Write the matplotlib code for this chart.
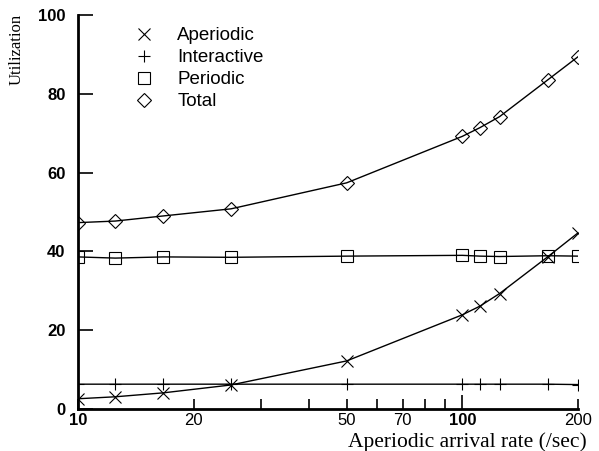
import matplotlib.pyplot as plt
from matplotlib.lines import Line2D
from matplotlib.ticker import FixedLocator, NullLocator, NullFormatter

rate = [10, 12.5, 16.67, 25, 50, 100, 111.1, 125, 166.67, 200]
aperiodic = [2.6, 3.1, 4.1, 6.1, 12.2, 23.9, 26.1, 29.3, 38.6, 44.7]
interactive = [6.3, 6.3, 6.3, 6.3, 6.3, 6.3, 6.3, 6.3, 6.3, 6.2]
periodic = [38.6, 38.3, 38.6, 38.5, 38.8, 39.0, 38.8, 38.7, 38.9, 38.8]
total = [47.3, 47.7, 49.0, 50.8, 57.4, 69.2, 71.4, 74.2, 83.5, 89.4]

xticks = [10, 20, 50, 70, 100, 200]
xminor = [30, 40, 60, 80, 90]
yticks = [0, 20, 40, 60, 80, 100]

sans = 'Liberation Sans'
serif = 'Liberation Serif'
W, H = 599, 451

fig = plt.figure(figsize=(5.99, 4.51), dpi=100)
ax = fig.add_axes([78 / W, 1 - 409 / H, 500 / W, 394 / H])

ax.plot(rate, aperiodic, color='black', lw=1, marker='x', ms=9, mew=0.8)
ax.plot(rate, interactive, color='black', lw=1, marker='+', ms=8, mew=0.8)
ax.plot(rate, periodic, color='black', lw=1, marker='s', ms=9, mew=0.8, mfc='none')
ax.plot(rate, total, color='black', lw=1, marker='D', ms=7, mew=0.8, mfc='none')

ax.set_xscale('log')
ax.set_xlim(10, 200)
ax.set_ylim(0, 100)

for s in ['top', 'right']:
    ax.spines[s].set_visible(False)
for s in ['left', 'bottom']:
    ax.spines[s].set_linewidth(2)

ax.xaxis.set_major_locator(FixedLocator(xticks))
ax.xaxis.set_minor_locator(FixedLocator(xminor))
ax.xaxis.set_minor_formatter(NullFormatter())
ax.set_xticklabels([str(t) for t in xticks], fontfamily=sans, fontsize=12)
for lbl in ax.get_xticklabels():
    if lbl.get_text() in ('10', '100'):
        lbl.set_fontweight('bold')
ax.tick_params(axis='x', which='major', direction='in', length=7, width=1.2, pad=3)
ax.tick_params(axis='x', which='minor', direction='in', length=7, width=1.2)
ax.xaxis.get_major_ticks()[4].tick1line.set_markersize(10)

ax.yaxis.set_major_locator(FixedLocator(yticks))
ax.yaxis.set_minor_locator(NullLocator())
ax.set_yticklabels([str(t) for t in yticks], fontfamily=sans, fontsize=12, fontweight='bold')
ax.tick_params(axis='y', direction='in', length=11, width=1.2, pad=9)

fig.text(17 / W, 1 - 14 / H, 'Utilization', rotation=90, ha='center', va='top',
         fontfamily=serif, fontsize=12)
fig.text(467 / W, 1 - 442 / H, 'Aperiodic arrival rate (/sec)', ha='center', va='center',
         fontfamily=serif, fontsize=15.5)

handles = [
    Line2D([], [], color='black', ls='none', marker='x', ms=9, mew=0.8),
    Line2D([], [], color='black', ls='none', marker='+', ms=9, mew=0.8),
    Line2D([], [], color='black', ls='none', marker='s', ms=9, mew=0.8, mfc='none'),
    Line2D([], [], color='black', ls='none', marker='D', ms=7, mew=0.8, mfc='none'),
]
ax.legend(handles, ['Aperiodic', 'Interactive', 'Periodic', 'Total'],
          loc='upper left', bbox_to_anchor=(135 / W, 1 - 27 / H),
          bbox_transform=fig.transFigure, frameon=False, borderpad=0,
          borderaxespad=0, prop={'family': sans, 'size': 13.5},
          handlelength=1.0, handletextpad=1.26, labelspacing=0.26)

plt.savefig('out.png', dpi=100)
